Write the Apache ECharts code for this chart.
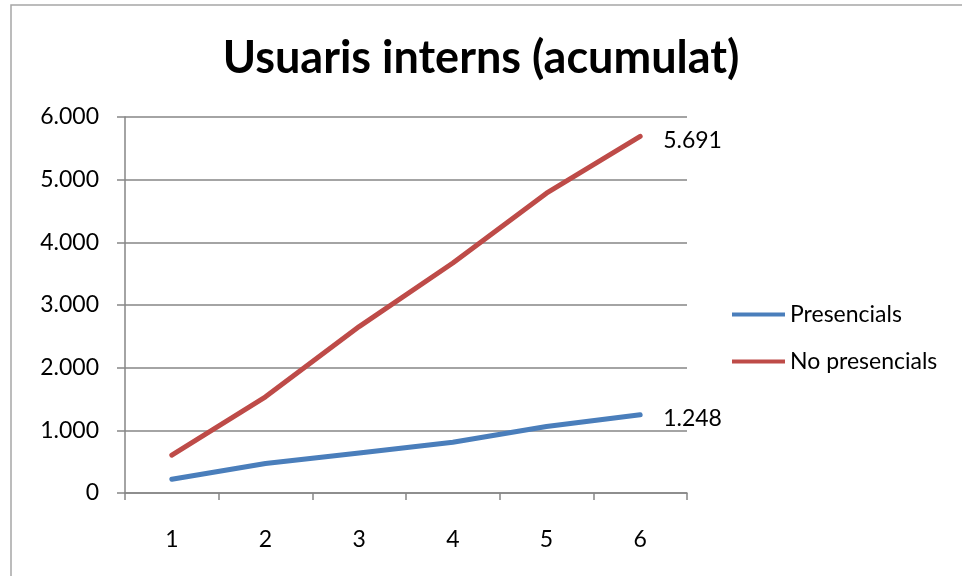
<!DOCTYPE html>
<html lang="ca">
<head>
    <meta charset="UTF-8">
    <title>Usuaris interns (acumulat)</title>
    <script src="https://cdn.jsdelivr.net/npm/echarts@6/dist/echarts.min.js"></script>
    <style>
        html, body { margin: 0; padding: 0; background: #fff; }
        #main { width: 962px; height: 576px; }
    </style>
</head>
<body>
<div id="main"></div>
<script type="text/javascript">
    // dades llegides del gràfic
    var categories = ['1', '2', '3', '4', '5', '6'];
    var presencials = [220, 470, 640, 810, 1060, 1248];
    var noPresencials = [605, 1535, 2655, 3670, 4785, 5691];
    var yTicks = [0, 1000, 2000, 3000, 4000, 5000, 6000];

    var font = 'Lato';

    // format amb punt de milers
    function milers(v) {
        return String(Math.round(v)).replace(/\B(?=(\d{3})+(?!\d))/g, '.');
    }

    var myChart = echarts.init(document.getElementById('main'));

    var option = {
        backgroundColor: '#fff',
        animation: false,
        graphic: [{
            type: 'rect',
            shape: { x: 11, y: 5, width: 1000, height: 1000 },
            style: { fill: 'none', stroke: '#a6a6a6', lineWidth: 1.5 },
            silent: true
        }],
        title: {
            text: 'Usuaris interns (acumulat)',
            left: 'center',
            top: 31,
            textStyle: { fontFamily: font, fontWeight: 'bold', fontSize: 45, color: '#000' }
        },
        legend: {
            orient: 'vertical',
            left: 727,
            top: 298,
            icon: 'rect',
            itemWidth: 53,
            itemHeight: 4,
            itemGap: 24,
            textStyle: { fontFamily: font, fontSize: 23, color: '#000' },
            data: ['Presencials', 'No presencials']
        },
        grid: { left: 125, right: 275, top: 117, bottom: 83 },
        xAxis: {
            type: 'category',
            data: categories,
            boundaryGap: true,
            axisLine: { lineStyle: { color: '#868686', width: 1.5 } },
            axisTick: { show: true, length: 7, lineStyle: { color: '#868686', width: 1.5 } },
            axisLabel: { margin: 35, fontFamily: font, fontSize: 23, color: '#000' }
        },
        yAxis: {
            type: 'value',
            min: yTicks[0],
            max: yTicks[yTicks.length - 1],
            interval: 1000,
            axisLine: { show: true, lineStyle: { color: '#868686', width: 1.5 } },
            axisTick: { show: true, length: 8, lineStyle: { color: '#868686', width: 1.5 } },
            splitLine: { lineStyle: { color: '#868686', width: 1.5 } },
            axisLabel: { margin: 26, fontFamily: font, fontSize: 23, color: '#000', formatter: milers }
        },
        series: [{
            name: 'Presencials',
            type: 'line',
            data: presencials,
            symbol: 'none',
            color: '#4A7EBB',
            lineStyle: { width: 5, cap: 'round', join: 'round' },
            endLabel: {
                show: true, distance: 23, offset: [0, 4],
                fontFamily: font, fontSize: 23, color: '#000',
                formatter: function (p) { return milers(p.value); }
            }
        }, {
            name: 'No presencials',
            type: 'line',
            data: noPresencials,
            symbol: 'none',
            color: '#BE4B48',
            lineStyle: { width: 5, cap: 'round', join: 'round' },
            endLabel: {
                show: true, distance: 23, offset: [0, 4],
                fontFamily: font, fontSize: 23, color: '#000',
                formatter: function (p) { return milers(p.value); }
            }
        }]
    };

    myChart.setOption(option);
</script>
</body>
</html>
